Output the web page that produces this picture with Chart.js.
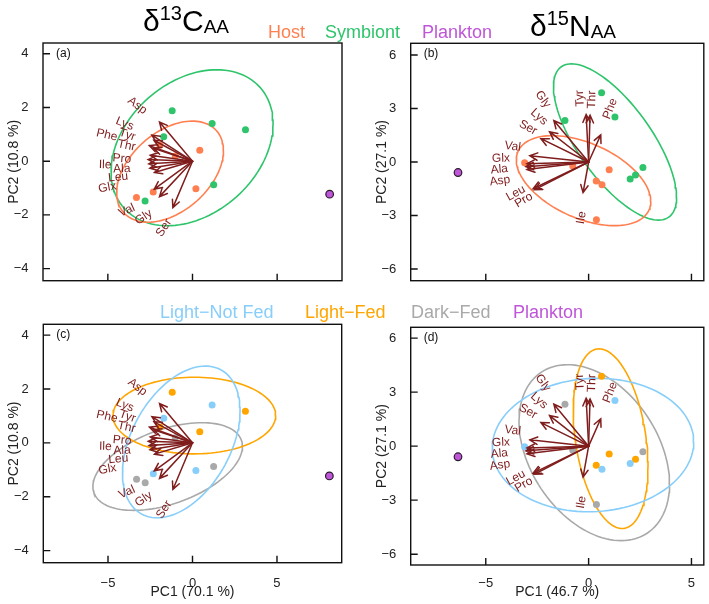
<!DOCTYPE html>
<html>
<head>
<meta charset="utf-8">
<script src="https://cdn.jsdelivr.net/npm/chart.js@4.4.1/dist/chart.umd.min.js"></script>
<style>
body { margin: 0; background: #fff; font-family: "Liberation Sans", Arial, sans-serif; }
#wrap { position: relative; width: 709px; height: 604px; overflow: hidden; }
canvas { position: absolute; }
.t { position: absolute; white-space: nowrap; line-height: 1; }
.lg { font-size: 18px; }
.ttl { font-size: 30px; color: #000; }
.ttl .sup { font-size: 20px; position: relative; top: -11px; }
.ttl .sub { font-size: 19px; position: relative; top: 2px; }
</style>
</head>
<body>
<div id="wrap">
  <canvas id="pa" width="354" height="295" style="left:0;top:0"></canvas>
  <canvas id="pb" width="355" height="295" style="left:354px;top:0"></canvas>
  <canvas id="pc" width="354" height="309" style="left:0;top:295px"></canvas>
  <canvas id="pd" width="355" height="309" style="left:354px;top:295px"></canvas>

  <div class="t ttl" style="left:143px;top:6px">δ<span class="sup">13</span>C<span class="sub">AA</span></div>
  <div class="t ttl" style="left:530px;top:11px">δ<span class="sup">15</span>N<span class="sub">AA</span></div>

  <div class="t lg" style="left:268px;top:23px;color:#FF7F50">Host</div>
  <div class="t lg" style="left:325px;top:23px;color:#2EC46B">Symbiont</div>
  <div class="t lg" style="left:422px;top:23px;color:#BF55D8">Plankton</div>

  <div class="t lg" style="left:160px;top:303px;color:#87CEFA">Light−Not Fed</div>
  <div class="t lg" style="left:305px;top:303px;color:#FFA500">Light−Fed</div>
  <div class="t lg" style="left:411px;top:303px;color:#A9A9A9">Dark−Fed</div>
  <div class="t lg" style="left:513px;top:303px;color:#BF55D8">Plankton</div>
</div>
<script>
// ---- d13C PCA (panels a, c) ----
var pcC_x = [-1.20, 1.16, 3.13, -1.70, 1.25, -2.80, -1.93, 0.43, -1.02, 0.20, -2.32, -3.31];
var pcC_y = [1.88, 1.40, 1.17, 0.91, -0.88, -1.48, 0.59, 0.41, 0.19, -1.03, -1.15, -1.35];
var planktonC = [8.10, -1.23];

// ---- d15N PCA (panels b, d) ----
var pcN_x = [0.63, 1.28, -1.15, 2.64, 2.28, 2.02, -3.11, -0.77, 1.00, 0.37, 0.65, 0.38];
var pcN_y = [3.88, 2.53, 2.33, -0.31, -0.73, -0.96, -0.04, -0.23, -0.43, -1.06, -1.28, -3.24];
var planktonN = [-6.35, -0.59];

// same 12 samples, same order in both
var fraction = ['Symbiont','Symbiont','Symbiont','Symbiont','Symbiont','Symbiont',
                'Host','Host','Host','Host','Host','Host'];
var treatC = ['Light-Fed','Light-Not Fed','Light-Fed','Light-Not Fed','Dark-Fed','Dark-Fed',
              'Light-Fed','Light-Fed','Dark-Fed','Light-Not Fed','Light-Not Fed','Dark-Fed'];
var treatN = ['Light-Fed','Light-Not Fed','Dark-Fed','Dark-Fed','Light-Fed','Light-Not Fed',
              'Light-Not Fed','Dark-Fed','Light-Fed','Light-Fed','Light-Not Fed','Dark-Fed'];

var fractions = ['Host', 'Symbiont'];
var treatments = ['Light-Not Fed', 'Light-Fed', 'Dark-Fed'];

// loadings (arrow tips) and label positions
var aaC = ['Asp','Lys','Tyr','Phe','Thr','Pro','Ile','Ala','Leu','Glx','Val','Gly','Ser'];
var loadC_x = [-1.95, -2.40, -2.28, -2.55, -2.30, -2.50, -2.62, -2.58, -2.52, -2.25, -2.26, -1.95, -1.16];
var loadC_y = [1.46, 0.97, 0.78, 0.58, 0.48, 0.22, 0.06, -0.10, -0.26, -0.42, -1.04, -1.32, -1.73];
var labC_x = [-3.26, -4.00, -3.85, -5.06, -3.90, -4.17, -5.16, -4.17, -4.39, -5.03, -3.88, -2.89, -1.68];
var labC_y = [2.07, 1.39, 0.98, 0.97, 0.58, 0.09, -0.14, -0.29, -0.60, -0.98, -1.84, -2.09, -2.48];

var aaN = ['Gly','Lys','Ser','Val','Glx','Ala','Asp','Leu','Pro','Tyr','Thr','Phe','Ile'];
var loadN_x = [-1.69, -1.90, -2.32, -2.86, -3.00, -3.05, -3.00, -2.70, -2.64, -0.12, 0.07, 0.59, -0.27];
var loadN_y = [2.33, 1.70, 1.31, 0.35, -0.10, -0.26, -0.42, -1.50, -1.56, 2.66, 2.62, 1.52, -1.72];
var labN_x = [-2.22, -2.41, -2.95, -3.69, -4.26, -4.34, -4.31, -3.54, -3.15, -0.42, 0.16, 1.05, -0.35];
var labN_y = [3.51, 2.53, 1.93, 0.87, 0.20, -0.42, -1.06, -1.75, -2.14, 3.57, 3.50, 2.98, -3.12];

var xTicks = [-5, 0, 5];
var yTicksC = [-4, -2, 0, 2, 4];
var yTicksN = [-6, -3, 0, 3, 6];

var colors = {
  'Host': '#FF7F50', 'Symbiont': '#2EC46B',
  'Light-Not Fed': '#87CEFA', 'Light-Fed': '#FFA500', 'Dark-Fed': '#A9A9A9'
};
var plankCol = '#BF55D8';
var arrowCol = '#7F1D1D';
var FONT = "'Liberation Sans', Arial, sans-serif";
var R_ELL = Math.sqrt(4.605); // 90% normal-theory ellipse

function ellipse(xs, ys) {
  var n = xs.length, mx = 0, my = 0;
  for (var i = 0; i < n; i++) { mx += xs[i]; my += ys[i]; }
  mx /= n; my /= n;
  var sxx = 0, syy = 0, sxy = 0;
  for (i = 0; i < n; i++) {
    sxx += (xs[i] - mx) * (xs[i] - mx);
    syy += (ys[i] - my) * (ys[i] - my);
    sxy += (xs[i] - mx) * (ys[i] - my);
  }
  sxx /= n - 1; syy /= n - 1; sxy /= n - 1;
  var l11 = Math.sqrt(sxx), l21 = sxy / l11, l22 = Math.sqrt(syy - l21 * l21);
  var pts = [];
  for (var k = 0; k <= 120; k++) {
    var t = 2 * Math.PI * k / 120;
    pts.push({x: mx + R_ELL * l11 * Math.cos(t), y: my + R_ELL * (l21 * Math.cos(t) + l22 * Math.sin(t))});
  }
  return pts;
}

function buildDatasets(xs, ys, groups, names, plank) {
  var ds = [];
  names.forEach(function(g) {
    var px = [], py = [];
    for (var i = 0; i < xs.length; i++) {
      if (groups[i] === g) { px.push(xs[i]); py.push(ys[i]); }
    }
    ds.push({
      label: g, order: 0,
      data: px.map(function(x, k) { return {x: x, y: py[k]}; }),
      pointRadius: 3.5, pointBackgroundColor: colors[g], pointBorderWidth: 0
    });
    ds.push({
      label: g + ' ellipse', order: 1, data: ellipse(px, py), showLine: true,
      borderColor: colors[g], borderWidth: 1.6, pointRadius: 0, fill: false, tension: 0
    });
  });
  ds.push({
    label: 'Plankton', order: 0, data: [{x: plank[0], y: plank[1]}],
    pointRadius: 3.8, pointBackgroundColor: plankCol, pointBorderColor: '#2a1a2a', pointBorderWidth: 1.2
  });
  return ds;
}

function biplot(p) {
  return {
    id: 'biplot',
    afterDatasetsDraw: function(chart) {
      var ctx = chart.ctx, xs = chart.scales.x, ys = chart.scales.y;
      var ox = xs.getPixelForValue(0), oy = ys.getPixelForValue(0);
      ctx.save();
      ctx.strokeStyle = arrowCol;
      ctx.fillStyle = arrowCol;
      ctx.lineWidth = 1.5;
      ctx.lineCap = 'round';
      for (var i = 0; i < p.names.length; i++) {
        var tx = xs.getPixelForValue(p.lx[i]), ty = ys.getPixelForValue(p.ly[i]);
        var a = Math.atan2(ty - oy, tx - ox), h = 8.5, w = 0.45;
        ctx.beginPath();
        ctx.moveTo(ox, oy); ctx.lineTo(tx, ty);
        ctx.moveTo(tx - h * Math.cos(a - w), ty - h * Math.sin(a - w));
        ctx.lineTo(tx, ty);
        ctx.lineTo(tx - h * Math.cos(a + w), ty - h * Math.sin(a + w));
        ctx.stroke();
      }
      ctx.font = '12px ' + FONT;
      ctx.textAlign = 'center';
      ctx.textBaseline = 'middle';
      for (i = 0; i < p.names.length; i++) {
        var deg = Math.atan2(p.ly[i], p.lx[i]) * 180 / Math.PI;
        if (deg > 95) deg -= 180;
        if (deg <= -85) deg += 180;
        ctx.save();
        ctx.translate(xs.getPixelForValue(p.tx[i]), ys.getPixelForValue(p.ty[i]));
        ctx.rotate(-deg * Math.PI / 180);
        ctx.fillText(p.names[i], 0, 0);
        ctx.restore();
      }
      ctx.restore();
    },
    afterDraw: function(chart) {
      var ctx = chart.ctx, ca = chart.chartArea, xs = chart.scales.x, ys = chart.scales.y;
      ctx.save();
      ctx.strokeStyle = '#111';
      ctx.lineWidth = 1.4;
      ctx.strokeRect(ca.left, ca.top, ca.right - ca.left, ca.bottom - ca.top);
      ctx.beginPath();
      xTicks.forEach(function(v) {
        var x = xs.getPixelForValue(v);
        ctx.moveTo(x, ca.bottom); ctx.lineTo(x, ca.bottom - 7);
      });
      p.yTicks.forEach(function(v) {
        var y = ys.getPixelForValue(v);
        ctx.moveTo(ca.left, y); ctx.lineTo(ca.left + 7, y);
      });
      ctx.stroke();
      ctx.fillStyle = '#111';
      ctx.font = '12px ' + FONT;
      ctx.textAlign = 'left';
      ctx.textBaseline = 'middle';
      ctx.fillText(p.tag, ca.left + 13, ca.top + 10.5);
      ctx.restore();
    }
  };
}

function minus(v) { return String(v).replace('-', '\u2212'); }

function panel(id, p) {
  var cv = document.getElementById(id);
  var W = cv.width, H = cv.height, box = p.box;
  new Chart(cv, {
    type: 'scatter',
    data: {datasets: p.datasets},
    options: {
      responsive: false, animation: false, devicePixelRatio: 1, events: [],
      layout: {padding: {left: 0, top: box.top, right: W - box.right, bottom: 0}},
      plugins: {legend: {display: false}, tooltip: {enabled: false}},
      scales: {
        x: {
          type: 'linear', position: 'bottom', min: p.xr[0], max: p.xr[1],
          grid: {display: false}, border: {display: false},
          afterBuildTicks: function(s) { s.ticks = xTicks.map(function(v) { return {value: v}; }); },
          afterFit: function(s) { s.height = H - box.bottom; },
          ticks: {display: p.xLabels, font: {size: 13, family: FONT}, color: '#222', padding: p.xPad, callback: minus},
          title: {display: p.xLabels, text: p.xTitle, font: {size: 14, family: FONT}, color: '#222',
                  padding: {top: 0, bottom: 3}}
        },
        y: {
          type: 'linear', position: 'left', min: p.yr[0], max: p.yr[1],
          grid: {display: false}, border: {display: false},
          afterBuildTicks: function(s) { s.ticks = p.yTicks.map(function(v) { return {value: v}; }); },
          afterFit: function(s) { s.width = box.left; },
          ticks: {font: {size: 13, family: FONT}, color: '#222', padding: 6.5, callback: minus},
          title: {display: true, text: p.yTitle, font: {size: 14, family: FONT}, color: '#222',
                  padding: {top: box.left - 29 - 8.4, bottom: 0}}
        }
      }
    },
    plugins: [biplot(p)]
  });
}

panel('pa', {
  box: {left: 43, top: 43, right: 342, bottom: 281},
  xr: [-8.83, 8.83], yr: [-4.45, 4.4], yTicks: yTicksC,
  xLabels: false, xTitle: 'PC1 (70.1 %)', yTitle: 'PC2 (10.8 %)', xPad: 4, tag: '(a)',
  datasets: buildDatasets(pcC_x, pcC_y, fraction, fractions, planktonC),
  names: aaC, lx: loadC_x, ly: loadC_y, tx: labC_x, ty: labC_y
});
panel('pb', {
  box: {left: 56.7, top: 43.3, right: 353.5, bottom: 283},
  xr: [-8.65, 5.6], yr: [-6.66, 6.66], yTicks: yTicksN,
  xLabels: false, xTitle: 'PC1 (46.7 %)', yTitle: 'PC2 (27.1 %)', xPad: 4, tag: '(b)',
  datasets: buildDatasets(pcN_x, pcN_y, fraction, fractions, planktonN),
  names: aaN, lx: loadN_x, ly: loadN_y, tx: labN_x, ty: labN_y
});
panel('pc', {
  box: {left: 43.3, top: 29.3, right: 341.7, bottom: 267.7},
  xr: [-8.83, 8.83], yr: [-4.45, 4.4], yTicks: yTicksC,
  xLabels: true, xTitle: 'PC1 (70.1 %)', yTitle: 'PC2 (10.8 %)', xPad: 4.5, tag: '(c)',
  datasets: buildDatasets(pcC_x, pcC_y, treatC, treatments, planktonC),
  names: aaC, lx: loadC_x, ly: loadC_y, tx: labC_x, ty: labC_y
});
panel('pd', {
  box: {left: 56.7, top: 32.3, right: 353.5, bottom: 270},
  xr: [-8.65, 5.6], yr: [-6.6, 6.6], yTicks: yTicksN,
  xLabels: true, xTitle: 'PC1 (46.7 %)', yTitle: 'PC2 (27.1 %)', xPad: 2.2, tag: '(d)',
  datasets: buildDatasets(pcN_x, pcN_y, treatN, treatments, planktonN),
  names: aaN, lx: loadN_x, ly: loadN_y, tx: labN_x, ty: labN_y
});
</script>
</body>
</html>
